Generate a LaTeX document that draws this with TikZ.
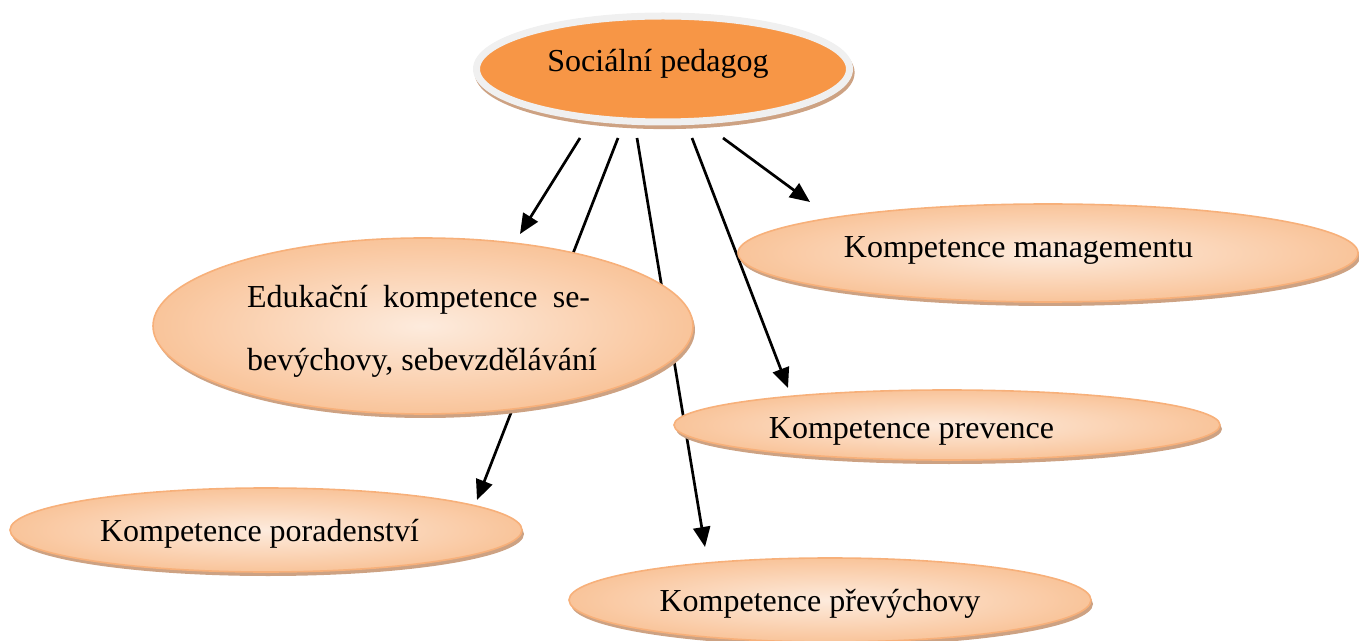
\documentclass[tikz,border=0pt]{standalone}
\usepackage{fontspec}
\setmainfont{Liberation Serif}
\usetikzlibrary{shapes.geometric,shadows,arrows.meta,backgrounds}
\definecolor{peachin}{HTML}{FDEBDD}
\definecolor{peachout}{HTML}{F9C49A}
\definecolor{peachline}{HTML}{F7B07A}
\definecolor{shadowtan}{HTML}{CDA283}
\definecolor{accent}{HTML}{F79646}
\definecolor{rim}{HTML}{F0F0F0}
\begin{document}
\begin{tikzpicture}[x=0.5pt,y=-0.5pt,
    top/.style={ellipse, inner sep=0pt, outer sep=0pt, fill=accent, draw=rim, line width=3.5pt,
      drop shadow={shadow xshift=0.8pt, shadow yshift=-1.8pt, fill=shadowtan, draw=shadowtan, opacity=1}},
    bubble/.style={ellipse, inner sep=0pt, outer sep=0pt, draw=peachline, line width=0.8pt,
      inner color=peachin, outer color=peachout,
      drop shadow={shadow xshift=1pt, shadow yshift=-2pt, fill=shadowtan, opacity=1}},
    txt/.style={inner sep=0pt, font=\fontsize{16pt}{31.5pt}\selectfont},
    arr/.style={-{Triangle[length=10pt,width=8.5pt]}, line width=1.35pt}]
  \useasboundingbox (0,0) rectangle (1359,641);
  % ellipses
  \node[top, minimum width=186.5pt, minimum height=53pt] (soc) at (663,69) {};
  \node[bubble, minimum width=270pt, minimum height=88pt] (edu) at (423,326) {};
  \node[bubble, minimum width=310pt, minimum height=49pt] (mgmt) at (1048,253) {};
  \node[bubble, minimum width=273pt, minimum height=35pt] (prev) at (947,425) {};
  \node[bubble, minimum width=256pt, minimum height=42pt] (por) at (266,530) {};
  \node[bubble, minimum width=261pt, minimum height=42pt] (pre) at (830,600) {};
  % texts
  \node[txt, anchor=base] (soc-t) at (658,72) {Sociální pedagog};
  \node[txt, align=left] (edu-t) at (422,331)
    {\makebox[171.5pt][s]{Edukační kompetence se-}\\bevýchovy, sebevzdělávání};
  \node[txt, anchor=base] (mgmt-t) at (1018.5,258) {Kompetence managementu};
  \node[txt, anchor=base] (prev-t) at (911.5,438) {Kompetence prevence};
  \node[txt, anchor=base] (por-t) at (259.5,541) {Kompetence poradenství};
  \node[txt, anchor=base] (pre-t) at (820,611) {Kompetence převýchovy};
  % arrows
  \begin{pgfonlayer}{background}
    \draw[arr] ([shift={(-83,16)}]soc.south) -- ([shift={(97,-4)}]edu.north);
    \draw[arr] ([shift={(-45,16)}]soc.south) -- ([shift={(211,12)}]por.north);
    \draw[arr] ([shift={(-26,16)}]soc.south) -- ([shift={(-125,-11)}]pre.north);
    \draw[arr] ([shift={(29,16)}]soc.south) -- ([shift={(-159,-2)}]prev.north);
    \draw[arr] ([shift={(60,16)}]soc.south) -- ([shift={(-238,-2)}]mgmt.north);
  \end{pgfonlayer}
\end{tikzpicture}
\end{document}
